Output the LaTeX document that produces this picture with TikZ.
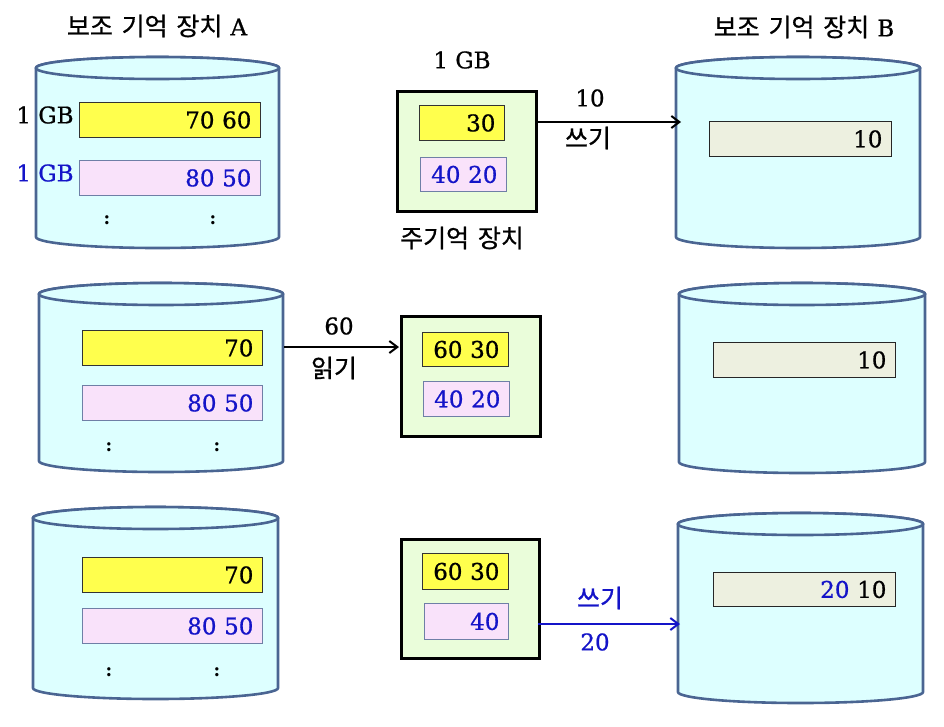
\documentclass[tikz,border=0pt]{standalone}
\usepackage{fontspec}
\setmainfont{DejaVu Serif}
\newfontfamily\numf{DejaVu Serif}[FakeBold=0.8]
\newfontfamily\kr{Noto Sans CJK KR}[FakeBold=0.7]
\definecolor{cylfill}{HTML}{DDFFFF}
\definecolor{cylline}{HTML}{4A6592}
\definecolor{yfill}{HTML}{FFFF4D}
\definecolor{pfill}{HTML}{F9E2FA}
\definecolor{pline}{HTML}{6F7FA6}
\definecolor{bfill}{HTML}{EDF0E0}
\definecolor{mfill}{HTML}{EAFDDA}
\definecolor{bluetxt}{HTML}{1414C8}
\newcommand\cylshape[5]{%
  \pgfmathsetmacro\cylrx{(#2-#1)/2}%
  \pgfmathsetmacro\cylcx{(#2+#1)/2}%
  \draw[cylstyle] (#1,#3) -- (#1,#4) arc[start angle=180,end angle=360,x radius=\cylrx pt,y radius=11pt] -- (#2,#3) arc[start angle=0,end angle=180,x radius=\cylrx pt,y radius=11pt] -- cycle;
  \draw[cylstyle] (\cylcx,#3) ellipse[x radius=\cylrx pt,y radius=11pt];
  \coordinate (#5) at (\cylcx,{(#3+#4)/2});
}
\newcommand\ksp{\hspace{0.35em}}
\tikzset{
  cylstyle/.style={draw=cylline, fill=cylfill, line width=2.6pt},
  numbox/.style={minimum height=35pt, inner xsep=9pt, inner ysep=0pt, align=right, font=\numf\fontsize{23}{26}\selectfont, anchor=north west},
  ybox/.style={numbox, draw=black!80, fill=yfill, line width=0.9pt},
  pbox/.style={numbox, draw=pline, fill=pfill, line width=0.9pt, text=bluetxt},
  bbox/.style={numbox, draw=black!85, fill=bfill, line width=0.9pt},
  membox/.style={draw=black, fill=mfill, line width=2.6pt, anchor=north west},
  lbl/.style={font=\numf\fontsize{23}{26}\selectfont},
  krl/.style={font=\kr\fontsize{25}{28}\selectfont},
  dotl/.style={font=\fontsize{18}{20}\selectfont\bfseries},
  arr/.style={-{Straight Barb[length=8pt,width=12pt]}, line width=2pt}
}
\usetikzlibrary{arrows.meta}
\begin{document}
\begin{tikzpicture}[x=1pt,y=-1pt]
\useasboundingbox (0,0) rectangle (944,726);
% titles
\node[lbl] (titA) at (157,26) {{\kr\fontsize{25}{28}\selectfont 보조\ksp 기억\ksp 장치}\ksp A};
\node[lbl] (titB) at (804,27) {{\kr\fontsize{25}{28}\selectfont 보조\ksp 기억\ksp 장치}\ksp B};
% ---------- row 1 ----------
\cylshape{36}{279}{68}{237}{cylA1}
\node[ybox, text width=163pt] (ya1) at (79,102) {70 60};
\node[pbox, text width=163pt] (pa1) at (79,160) {80 50};
\node[lbl] (gb1) at (45,115) {1 GB};
\node[lbl, text=bluetxt] (gb2) at (45,173) {1 GB};
\node[dotl] (da1) at (107,220) {:};
\node[dotl] (db1) at (213,220) {:};
\node[membox, minimum width=139pt, minimum height=120pt] (mem1) at (396,90) {};
\node[ybox, text width=67pt] (ym1) at (419,105) {30};
\node[pbox, text width=68pt, minimum height=34pt] (pm1) at (420,157) {40 20};
\node[lbl] (gbm) at (462,60) {1 GB};
\node[krl] (mainlbl) at (462,238) {주기억\ksp 장치};
\cylshape{676}{920}{68}{237}{cylB1}
\node[bbox, text width=164pt] (bb1) at (709,121) {10};
\coordinate (s1) at (536,122);
\coordinate (e1) at (681,122);
\draw[arr] (s1) -- (e1);
\node[lbl] (n10) at (590,98) {10};
\node[krl] (w1) at (588,138) {쓰기};
% ---------- row 2 ----------
\cylshape{39}{283}{294}{461}{cylA2}
\node[ybox, text width=162pt] (ya2) at (82,330) {70};
\node[pbox, text width=162pt] (pa2) at (82,385) {80 50};
\node[dotl] (da2) at (109,447) {:};
\node[dotl] (db2) at (217,447) {:};
\node[membox, minimum width=139pt, minimum height=120pt] (mem2) at (400,315) {};
\node[ybox, text width=68pt, minimum height=34pt] (ym2) at (422,332) {60 30};
\node[pbox, text width=68pt, minimum height=35pt] (pm2) at (423,381) {40 20};
\coordinate (s2) at (284,347);
\coordinate (e2) at (399,347);
\draw[arr] (s2) -- (e2);
\node[lbl] (n60) at (339,326) {60};
\node[krl] (r2) at (334,368) {읽기};
\cylshape{679}{925}{294}{462}{cylB2}
\node[bbox, text width=164pt] (bb2) at (713,342) {10};
% ---------- row 3 ----------
\cylshape{33}{278}{518}{688}{cylA3}
\node[ybox, text width=162pt] (ya3) at (82,557) {70};
\node[pbox, text width=162pt] (pa3) at (82,608) {80 50};
\node[dotl] (da3) at (109,672) {:};
\node[dotl] (db3) at (217,672) {:};
\node[membox, minimum width=138pt, minimum height=119pt] (mem3) at (400,538) {};
\node[ybox, text width=68pt, minimum height=36pt] (ym3) at (422,553) {60 30};
\node[pbox, text width=66pt, minimum height=36pt] (pm3) at (424,603) {40};
\cylshape{678}{923}{524}{692}{cylB3}
\node[bbox, text width=164pt, minimum height=34pt] (bb3) at (713,572) {{\color{bluetxt}20} 10};
\coordinate (s3) at (538,624);
\coordinate (e3) at (680,624);
\draw[arr, draw=bluetxt] (s3) -- (e3);
\node[krl, text=bluetxt] (w3) at (600,598) {쓰기};
\node[lbl, text=bluetxt] (n20) at (595,642) {20};
\end{tikzpicture}
\end{document}
